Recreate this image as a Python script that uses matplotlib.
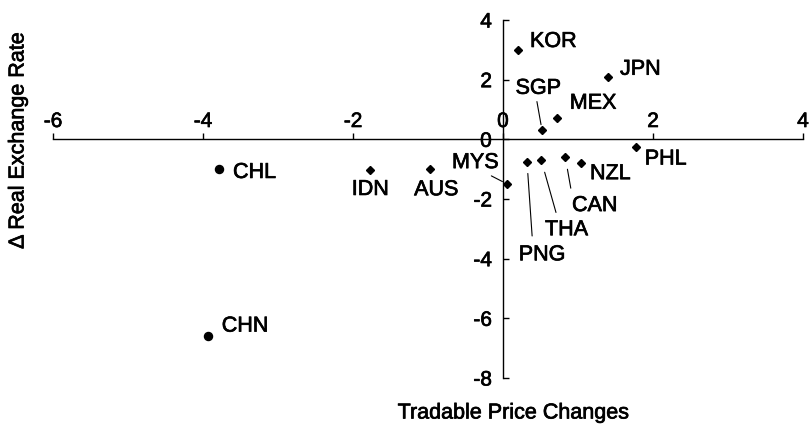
import matplotlib
matplotlib.use("Agg")
import matplotlib.pyplot as plt
import matplotlib.patheffects as pe

plt.rcParams['font.family'] = ['Liberation Sans', 'DejaVu Sans']

# Data
countries = ["CHL", "CHN", "IDN", "AUS", "KOR", "JPN", "SGP",
             "MEX", "PHL", "MYS", "PNG", "THA", "CAN", "NZL"]
tradable = [-3.79, -3.94, -1.78, -0.97, 0.20, 1.40, 0.52,
            0.72, 1.77, 0.05, 0.32, 0.51, 0.83, 1.04]
rer = [-1.00, -6.59, -1.02, -0.98, 3.00, 2.10, 0.31,
       0.73, -0.25, -1.49, -0.75, -0.70, -0.59, -0.81]
marker_kind = ["o", "o", "D", "D", "D", "D", "D",
               "D", "D", "D", "D", "D", "D", "D"]

x_ticks = [-6, -4, -2, 0, 2, 4]
y_ticks = [-8, -6, -4, -2, 0, 2, 4]

# label placement (data coords) and leader-line settings
label_pos = {
    "CHL": (-3.60, -1.11, "left"),
    "CHN": (-3.75, -6.26, "left"),
    "IDN": (-1.77, -1.68, "center"),
    "AUS": (-0.89, -1.69, "center"),
    "KOR": (0.36, 3.28, "left"),
    "JPN": (1.56, 2.35, "left"),
    "SGP": (0.47, 1.71, "center"),
    "MEX": (0.89, 1.21, "left"),
    "PHL": (1.89, -0.66, "left"),
    "MYS": (-0.68, -0.78, "left"),
    "NZL": (1.16, -1.15, "left"),
    "CAN": (0.92, -2.22, "left"),
    "THA": (0.56, -3.03, "left"),
    "PNG": (0.21, -3.87, "left"),
}
leaders = {
    "SGP": dict(relpos=(0.46, 0.0), shrinkA=0, shrinkB=4),
    "MYS": dict(relpos=(0.73, 0.0), shrinkA=0, shrinkB=3.5),
    "CAN": dict(relpos=(0.0, 1.0), shrinkA=3, shrinkB=9),
    "THA": dict(relpos=(0.3, 1.0), shrinkA=3, shrinkB=9),
    "PNG": dict(relpos=(0.3, 1.0), shrinkA=4, shrinkB=8.5),
}

# slightly heavier text, like the scanned original
heavy = [pe.withStroke(linewidth=0.5, foreground="black")]

fig = plt.figure(figsize=(8.12, 4.25), dpi=100)
ax = fig.add_axes([53/812, 47/425, 750/812, 358/425])

for xv, yv, mk in zip(tradable, rer, marker_kind):
    ax.plot(xv, yv, marker=mk, color="black", linestyle="none",
            markersize=5.8 if mk == "o" else 4.2, clip_on=False)

for name, xv, yv in zip(countries, tradable, rer):
    tx, ty, ha = label_pos[name]
    kw = {}
    if name in leaders:
        kw["arrowprops"] = dict(arrowstyle="-", color="black", lw=0.8,
                                **leaders[name])
    t = ax.annotate(name, xy=(xv, yv), xytext=(tx, ty), ha=ha, va="center",
                    fontsize=15.5, **kw)
    t.set_path_effects(heavy)

ax.set_xlim(-6, 4)
ax.set_ylim(-8, 4)

# axes crossing at the origin
ax.spines["top"].set_position(("data", 0))
ax.spines["left"].set_position(("data", 0))
ax.spines["bottom"].set_visible(False)
ax.spines["right"].set_visible(False)
ax.spines["top"].set_linewidth(1.0)
ax.spines["left"].set_linewidth(1.0)
ax.xaxis.set_ticks_position("top")
ax.set_xticks(x_ticks)
ax.set_yticks(y_ticks)
ax.set_xticklabels([str(v) for v in x_ticks])
ax.set_yticklabels([str(v) for v in y_ticks])
ax.tick_params(axis="x", direction="out", length=4, width=1.0, pad=2,
               labelsize=15)
ax.tick_params(axis="y", direction="in", length=4, width=1.0, pad=8,
               labelsize=15)
for lab in ax.get_xticklabels() + ax.get_yticklabels():
    lab.set_path_effects(heavy)
ax.patch.set_visible(False)

yl = fig.text(18/812, 1 - 141/425, "\u0394 Real Exchange Rate", rotation=90,
              ha="center", va="center", fontsize=15.5)
xl = fig.text(513/812, 1 - 413/425, "Tradable Price Changes",
              ha="center", va="center", fontsize=15.5)
yl.set_path_effects(heavy)
xl.set_path_effects(heavy)

fig.savefig("out.png", dpi=100)
